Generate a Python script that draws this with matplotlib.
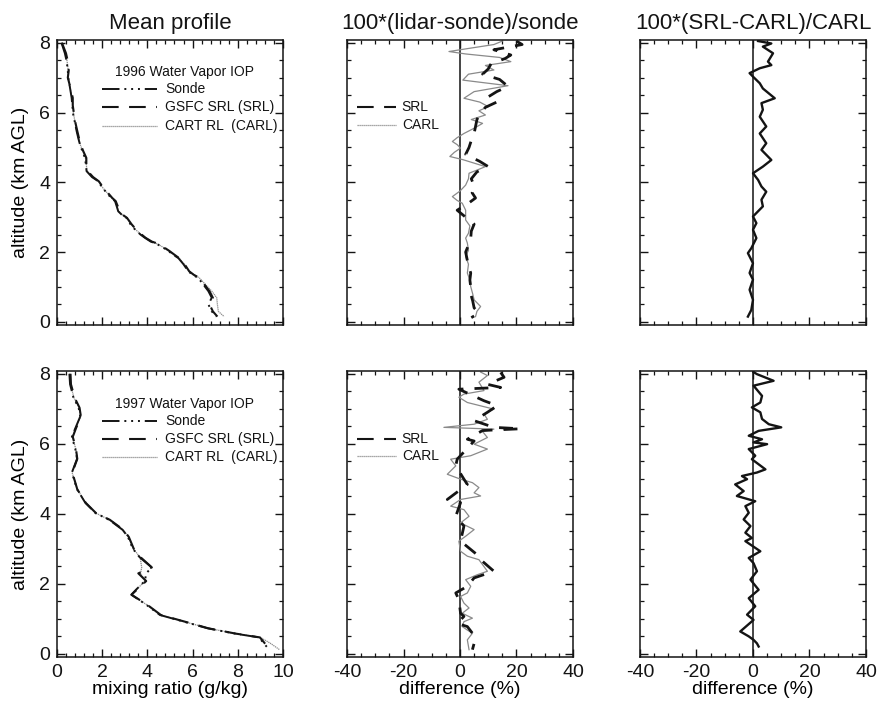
import matplotlib
matplotlib.use("Agg")
import matplotlib.pyplot as plt
from matplotlib.ticker import MultipleLocator

plt.rcParams['font.family'] = ['Liberation Sans', 'DejaVu Sans']
plt.rcParams['axes.unicode_minus'] = False

# ---------------- data ----------------
# 1996 mean profiles (altitude km, mixing ratio g/kg)
alt96 = [8.0, 7.7, 7.47, 7.2, 7.0, 6.7, 6.42, 6.2, 5.94, 5.7, 5.47, 5.25, 5.08, 4.9, 4.7, 4.5,
         4.32, 4.15, 4.03, 3.85, 3.7, 3.55, 3.46, 3.3, 3.17, 3.05, 2.98, 2.8, 2.65, 2.5, 2.41,
         2.3, 2.26, 2.15, 2.03, 1.9, 1.83, 1.65, 1.45, 1.35, 1.26, 1.05, 0.88, 0.69, 0.5, 0.3, 0.15]
sonde96 = [0.2, 0.35, 0.43, 0.48, 0.5, 0.58, 0.65, 0.68, 0.72, 0.8, 0.87, 0.95, 1.02, 1.12, 1.24, 1.28,
           1.31, 1.55, 1.83, 2.0, 2.2, 2.4, 2.57, 2.65, 2.71, 2.9, 3.08, 3.25, 3.45, 3.7, 3.89,
           4.15, 4.34, 4.65, 4.93, 5.2, 5.37, 5.6, 5.81, 6.0, 6.25, 6.5, 6.7, 6.85, 6.7, 6.85, 7.05]
srl96 = [0.22, 0.4, 0.48, 0.52, 0.48, 0.6, 0.7, 0.7, 0.76, 0.82, 0.9, 0.98, 1.05, 1.16, 1.3, 1.3,
         1.36, 1.6, 1.85, 2.05, 2.25, 2.45, 2.6, 2.7, 2.75, 2.95, 3.1, 3.3, 3.5, 3.75, 3.92,
         4.2, 4.38, 4.7, 4.98, 5.25, 5.4, 5.65, 5.85, 6.05, 6.3, 6.55, 6.75, 6.9, 6.75, 6.9, 7.1]
carl96 = [0.2, 0.36, 0.45, 0.5, 0.5, 0.59, 0.66, 0.69, 0.74, 0.81, 0.88, 0.96, 1.03, 1.14, 1.26, 1.3,
          1.33, 1.57, 1.84, 2.02, 2.22, 2.42, 2.58, 2.66, 2.73, 2.92, 3.1, 3.27, 3.47, 3.72, 3.9,
          4.17, 4.36, 4.67, 4.95, 5.22, 5.4, 5.64, 5.86, 6.06, 6.3, 6.6, 6.85, 7.07, 7.1, 7.14, 7.4]

# 1997 mean profiles
alt97 = [8.0, 7.7, 7.32, 7.03, 6.78, 6.44, 6.2, 5.86, 5.57, 5.18, 4.7, 4.31, 4.02, 3.83, 3.54, 3.34,
         3.0, 2.76, 2.47, 2.3, 2.08, 1.84, 1.69, 1.4, 1.11, 0.92, 0.73, 0.58, 0.47, 0.3, 0.12]
sonde97 = [0.55, 0.58, 0.73, 0.96, 1.03, 0.81, 0.66, 0.81, 0.89, 0.66, 0.89, 1.26, 1.71, 2.31, 2.91, 3.14,
           3.36, 3.66, 4.19, 3.95, 3.89, 3.51, 3.29, 3.96, 4.56, 5.62, 6.67, 7.87, 8.95, 9.15, 9.4]
srl97 = [0.6, 0.62, 0.78, 1.0, 1.06, 0.84, 0.7, 0.84, 0.9, 0.68, 0.9, 1.28, 1.73, 2.34, 2.95, 3.18,
         3.4, 3.7, 4.2, 3.6, 3.95, 3.55, 3.3, 4.0, 4.6, 5.66, 6.7, 7.9, 8.98, 9.2, 9.45]
carl97 = [0.57, 0.6, 0.75, 0.98, 1.05, 0.83, 0.68, 0.83, 0.9, 0.67, 0.9, 1.27, 1.72, 2.32, 2.93, 3.16,
          3.38, 3.68, 3.75, 3.7, 3.9, 3.52, 3.3, 3.98, 4.58, 5.64, 6.7, 7.9, 9.0, 9.45, 9.85]

# 1996 lidar-sonde differences (%)
carl96_alt = [8.05, 7.95, 7.85, 7.75, 7.68, 7.58, 7.46, 7.35, 7.22, 7.1, 6.93, 6.85, 6.77, 6.6, 6.41,
              6.3, 6.17, 6.05, 5.93, 5.8, 5.69, 5.55, 5.40, 5.28, 5.17, 5.08, 4.98, 4.86, 4.74, 4.65,
              4.55, 4.45, 4.35, 4.26, 4.1, 3.92, 3.75, 3.59, 3.48, 3.40, 3.2, 2.92, 2.75, 2.54, 2.4,
              2.26, 2.05, 1.88, 1.65, 1.40, 1.2, 1.01, 0.8, 0.63, 0.44, 0.3, 0.15]
carl96_diff = [15, 12, 4, -3.9, 2, 14, 18, 9, 12, 3, 1, 9, 17, 5, 1.4,
               7, 10, 6.7, 9, 4, 8, 5, 1.4, -1, -2.7, -1, 0.2, -2, -3.6, 1,
               5, 9, 6, 3.2, 3, 2, 0, -2.7, -1, 0.8, 2, 2, 3.5, 3, 2,
               2.6, 3, 2, 3, 2.6, 3.5, 3.8, 4.5, 5, 7.3, 6, 5.5]
srl96_alt = [8.05, 7.95, 7.8, 7.65, 7.55, 7.4, 7.25, 7.1, 6.95, 6.75, 6.6, 6.45, 6.3, 6.15, 5.95,
             5.8, 5.6, 5.4, 5.2, 5.0, 4.8, 4.6, 4.45, 4.3, 4.1, 3.9, 3.7, 3.55, 3.4, 3.2, 3.0,
             2.8, 2.6, 2.4, 2.2, 2.0, 1.8, 1.6, 1.4, 1.2, 1.0, 0.8, 0.6, 0.4, 0.25, 0.12]
srl96_diff = [20, 22, 12, 18, 16, 11, 10, 8, 14, 17, 13, 10, 13, 9, 7,
              6, 5.5, 5, 4, 3.2, 2, 7, 10, 6, 4, 5, 4.3, 5.5, 3, -1, 2,
              5, 4, 3.8, 3, 2, 2.5, 3, 3.8, 3.5, 3.8, 3.8, 4.5, 5, 6.7, 4]

# 1997 lidar-sonde differences (%)
carl97_alt = [8.05, 7.95, 7.76, 7.52, 7.42, 7.33, 7.18, 6.99, 6.85, 6.70, 6.56, 6.47, 6.42, 6.35,
              6.18, 5.99, 5.85, 5.66, 5.56, 5.37, 5.13, 4.99, 4.89, 4.75, 4.60, 4.51, 4.41, 4.22,
              4.12, 3.93, 3.74, 3.55, 3.36, 3.22, 2.93, 2.79, 2.69, 2.36, 2.26, 2.12, 1.93, 1.74,
              1.64, 1.45, 1.31, 1.16, 1.02, 0.92, 0.78, 0.68, 0.59, 0.40, 0.12]
carl97_diff = [7.3, 9.7, 6.7, 8.5, 1.4, -0.4, 2.6, 12, 8.5, 9.7, 5, -5.7, 12, 8,
               9.7, 5, 9.7, 3.8, -3.3, -1.5, -4.5, 0.2, 4.4, 6.7, 5, 7.3, 0.2, -3.3,
               1.4, 3.2, 0.2, 5, 2, -0.4, 0.2, 2.6, 6.7, 9.7, 6.1, 2, 3.8, 2.6,
               0.2, 1.4, 3.2, 0.8, 4.4, 1.4, 0.8, 2.6, 4.4, 2.6, 3.2]
srl97_alt = [8.04, 7.9, 7.7, 7.61, 7.56, 7.23, 7.09, 6.9, 6.66, 6.47, 6.43, 6.38, 6.13, 6.08,
             5.56, 5.37, 4.99, 4.84, 4.41, 4.32, 3.93, 3.65, 3.22, 2.79, 2.69, 2.36, 2.17, 1.93,
             1.74, 1.55, 1.16, 1.07, 0.87, 0.78, 0.59, 0.30, 0.12]
srl97_diff = [14.4, 15.6, 9.7, 14.4, -0.4, 8.5, 13.2, 9.7, 5, 12, 21.5, 8, 2.6, 5,
              -1, -1.5, 1.4, 2.6, -4.5, 0.2, -1.5, 1.4, 0.2, 6.7, 7.3, 12, 5, 2.6,
              -1.5, -0.4, 0.2, 1.4, -1, 2.6, 4.4, 5, 4.4]

# SRL vs CARL differences (%)
sc96_alt = [8.05, 7.98, 7.89, 7.70, 7.46, 7.36, 7.27, 7.13, 7.03, 6.84, 6.69, 6.41, 6.27, 6.08, 5.88,
            5.60, 5.40, 5.12, 4.93, 4.64, 4.45, 4.26, 4.07, 3.88, 3.73, 3.50, 3.31, 3.02, 2.83,
            2.64, 2.40, 2.11, 1.97, 1.68, 1.40, 1.21, 0.92, 0.63, 0.34, 0.15]
sc96_diff = [1.8, 6.5, 3.5, 7.1, 5.3, 6.5, 2.4, -1.2, 0, 2.4, 3.5, 7.7, 3, 3.5, 2.4,
             4.7, 2.4, 4.7, 3, 6.5, 3.5, 0, 1.8, 3, 4.7, 3, 3.5, 0, 1.2,
             0, 1.2, -0.6, -1.8, 0, -1.2, 0, -1.2, 0, -0.6, -1.8]
sc97_alt = [8.05, 7.99, 7.80, 7.66, 7.37, 7.18, 7.04, 6.90, 6.71, 6.56, 6.47, 6.37, 6.23, 6.13,
            6.04, 5.99, 5.85, 5.66, 5.56, 5.27, 5.18, 5.08, 4.99, 4.84, 4.65, 4.51, 4.36, 4.22,
            4.03, 3.84, 3.65, 3.46, 3.31, 3.22, 2.93, 2.74, 2.59, 2.36, 2.12, 1.83, 1.59, 1.36,
            1.12, 0.97, 0.64, 0.50, 0.40, 0.30, 0.21]
sc97_diff = [0.2, 1.4, 7.3, 0.2, 3.2, 2.6, -0.4, 2.6, 3.2, 5.6, 10, 2, -1.5, 3.2,
             0.2, 5, -1.5, 0.8, -0.4, 4.4, 1.4, -3.9, -2.1, -6.3, -3.3, -5.7, 0.8, -2.7,
             -1.5, -3.3, -0.9, -2.7, -0.4, -2.7, 2.6, -1.5, 0.2, 1.4, -0.9, 2, -1.5, 0.8,
             -2.1, 0.2, -4.5, -1.5, 0.2, 1.4, 2.0]

titles = ["Mean profile", "100*(lidar-sonde)/sonde", "100*(SRL-CARL)/CARL"]
years = ["1996 Water Vapor IOP", "1997 Water Vapor IOP"]
prof_labels = ["Sonde", "GSFC SRL (SRL)", "CART RL  (CARL)"]
diff_labels = ["SRL", "CARL"]

# ---------------- styles ----------------
SONDE_LS = (0, (9, 2.5, 1, 2.5, 1, 2.5, 1, 2.5))
SRL_LS = (0, (8, 5))
CARL_LS = (0, (1, 0.6))
BLK = '#141414'
GRY = '#8a8a8a'

fig = plt.figure(figsize=(8.9, 7.08), dpi=100)
lefts = [0.0640, 0.3899, 0.7191]
W = 0.2539
rows = [(0.5410, 0.4025), (0.0720, 0.404)]


def style(ax, col, row):
    for s in ax.spines.values():
        s.set_linewidth(1.1)
        s.set_color(BLK)
    ax.tick_params(which='both', direction='in', top=True, right=True, colors=BLK,
                   labelsize=14, pad=5)
    ax.tick_params(which='major', length=6, width=1.0)
    ax.tick_params(which='minor', length=3, width=0.9)
    ax.set_ylim(-0.09, 8.08)
    ax.yaxis.set_major_locator(MultipleLocator(2))
    ax.yaxis.set_minor_locator(MultipleLocator(0.5))
    if col == 0:
        ax.set_xlim(0, 10)
        ax.xaxis.set_major_locator(MultipleLocator(2))
        ax.xaxis.set_minor_locator(MultipleLocator(0.4))
        ax.set_ylabel("altitude (km AGL)", fontsize=14)
        ax.yaxis.set_label_coords(-0.125, 0.5)
    else:
        ax.set_xlim(-40, 40)
        ax.xaxis.set_major_locator(MultipleLocator(20))
        ax.xaxis.set_minor_locator(MultipleLocator(5))
        ax.tick_params(labelleft=False)
    if row == 0:
        ax.tick_params(labelbottom=False)
    else:
        ax.set_xlabel("mixing ratio (g/kg)" if col == 0 else "difference (%)", fontsize=14)
        ax.xaxis.set_label_coords(0.5, -0.085)


profiles = [(alt96, sonde96, srl96, carl96), (alt97, sonde97, srl97, carl97)]
diffs = [(srl96_alt, srl96_diff, carl96_alt, carl96_diff), (srl97_alt, srl97_diff, carl97_alt, carl97_diff)]
scs = [(sc96_alt, sc96_diff), (sc97_alt, sc97_diff)]
leg_y = [(7.16, 6.68, 6.16, 5.62), (7.13, 6.66, 6.13, 5.62)]
leg2_y = [(6.16, 5.64), (6.13, 5.64)]

for r, (bot, h) in enumerate(rows):
    axs = [fig.add_axes([lefts[c], bot, W, h]) for c in range(3)]
    for c, ax in enumerate(axs):
        style(ax, c, r)

    # panel 1: mean profiles
    ax = axs[0]
    a, s, l, cr = profiles[r]
    ax.plot(cr, a, color=GRY, lw=0.9, ls=CARL_LS)
    ax.plot(l, a, color=BLK, lw=1.5, ls=SRL_LS)
    ax.plot(s, a, color=BLK, lw=1.4, ls=SONDE_LS)
    ly = leg_y[r]
    ax.text(5.64, ly[0], years[r], fontsize=10, ha='center', va='center', color=BLK)
    styles = [(BLK, 1.4, SONDE_LS), (BLK, 1.5, SRL_LS), (GRY, 0.9, CARL_LS)]
    for k in range(3):
        colr, lw, ls = styles[k]
        ax.plot([2.0, 4.42], [ly[k + 1], ly[k + 1]], color=colr, lw=lw, ls=ls)
        ax.text(4.78, ly[k + 1], prof_labels[k], fontsize=10, ha='left', va='center',
                color=BLK, clip_on=False)

    # panel 2: lidar-sonde differences
    ax = axs[1]
    sa, sd, ca, cd = diffs[r]
    ax.axvline(0, color=BLK, lw=1.1)
    ax.plot(cd, ca, color=GRY, lw=0.9)
    ax.plot(sd, sa, color=BLK, lw=2.0, ls=(0, (5, 4)))
    l2 = leg2_y[r]
    ax.plot([-36.4, -22.7], [l2[0], l2[0]], color=BLK, lw=1.5, ls=SRL_LS)
    ax.plot([-36.4, -22.7], [l2[1], l2[1]], color=GRY, lw=0.9, ls=CARL_LS)
    ax.text(-20.6, l2[0], diff_labels[0], fontsize=10, ha='left', va='center', color=BLK)
    ax.text(-20.6, l2[1], diff_labels[1], fontsize=10, ha='left', va='center', color=BLK)

    # panel 3: SRL vs CARL
    ax = axs[2]
    ax.axvline(0, color=BLK, lw=1.1)
    xa, xd = scs[r]
    ax.plot(xd, xa, color=BLK, lw=1.7)

    if r == 0:
        for c in range(3):
            fig.text(lefts[c] + W / 2, 1 - 23 / 708, titles[c], fontsize=16,
                     ha='center', va='center', color=BLK)

fig.savefig("out.png", dpi=100, facecolor='white')
